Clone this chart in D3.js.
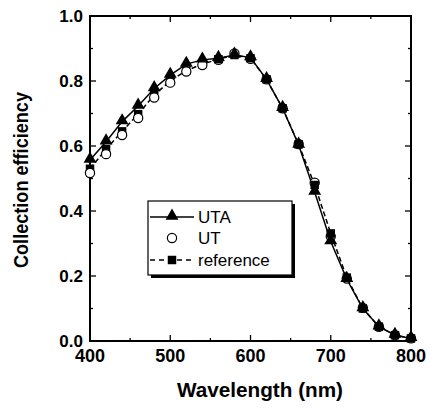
<!DOCTYPE html>
<html>
<head>
<meta charset="utf-8">
<script src="https://cdn.jsdelivr.net/npm/d3@7"></script>
<style>
  body { margin: 0; background: #fff; }
  text { font-family: "Liberation Sans", Arial, sans-serif; }
</style>
</head>
<body>
<div id="chart"></div>
<script>
const width = 430;
const height = 411;

// data
const wavelength = [400, 420, 440, 460, 480, 500, 520, 540, 560, 580, 600, 620, 640, 660, 680, 700, 720, 740, 760, 780, 800];
const uta = [0.557, 0.613, 0.675, 0.723, 0.777, 0.818, 0.852, 0.865, 0.870, 0.880, 0.872, 0.805, 0.716, 0.603, 0.458, 0.306, 0.190, 0.100, 0.044, 0.018, 0.008];
const ut = [0.517, 0.575, 0.634, 0.686, 0.749, 0.795, 0.829, 0.849, 0.865, 0.885, 0.868, 0.805, 0.716, 0.606, 0.487, 0.322, 0.192, 0.102, 0.044, 0.018, 0.008];
const reference = [0.530, 0.590, 0.645, 0.698, 0.757, 0.800, 0.832, 0.852, 0.867, 0.880, 0.870, 0.805, 0.716, 0.605, 0.480, 0.331, 0.195, 0.100, 0.044, 0.018, 0.008];
const xTicks = [400, 500, 600, 700, 800];
const yTicks = [0.0, 0.2, 0.4, 0.6, 0.8, 1.0];

const margin = {left: 90, right: 19, top: 16, bottom: 70};

const svg = d3.select("#chart").append("svg")
    .attr("width", width)
    .attr("height", height);

const x = d3.scaleLinear().domain([400, 800]).range([margin.left, width - margin.right]);
const y = d3.scaleLinear().domain([0, 1]).range([height - margin.bottom, margin.top]);

const x0 = x(400), x1 = x(800), y0 = y(0), y1 = y(1);

// ticks, inward, all four sides
const xMinor = d3.range(450, 800, 100);
const yMinor = d3.range(0.1, 1.0, 0.2);
const ticks = svg.append("g").attr("stroke", "#000").attr("stroke-width", 1.3);
xTicks.forEach(v => {
    ticks.append("line").attr("x1", x(v)).attr("x2", x(v)).attr("y1", y0).attr("y2", y0 - 6);
    ticks.append("line").attr("x1", x(v)).attr("x2", x(v)).attr("y1", y1).attr("y2", y1 + 6);
});
xMinor.forEach(v => {
    ticks.append("line").attr("x1", x(v)).attr("x2", x(v)).attr("y1", y0).attr("y2", y0 - 3);
    ticks.append("line").attr("x1", x(v)).attr("x2", x(v)).attr("y1", y1).attr("y2", y1 + 3);
});
yTicks.forEach(v => {
    ticks.append("line").attr("x1", x0).attr("x2", x0 + 6).attr("y1", y(v)).attr("y2", y(v));
    ticks.append("line").attr("x1", x1).attr("x2", x1 - 6).attr("y1", y(v)).attr("y2", y(v));
});
yMinor.forEach(v => {
    ticks.append("line").attr("x1", x0).attr("x2", x0 + 3).attr("y1", y(v)).attr("y2", y(v));
    ticks.append("line").attr("x1", x1).attr("x2", x1 - 3).attr("y1", y(v)).attr("y2", y(v));
});

svg.append("rect")
    .attr("x", x0).attr("y", y1)
    .attr("width", x1 - x0).attr("height", y0 - y1)
    .attr("fill", "none").attr("stroke", "#000").attr("stroke-width", 2);

// tick labels
svg.append("g").selectAll("text").data(xTicks).enter().append("text")
    .attr("x", d => x(d)).attr("y", y0 + 21)
    .attr("text-anchor", "middle")
    .attr("font-size", 18).attr("font-weight", "bold")
    .text(d => d);
svg.append("g").selectAll("text").data(yTicks).enter().append("text")
    .attr("x", x0 - 7).attr("y", d => y(d) + 6)
    .attr("text-anchor", "end")
    .attr("font-size", 17).attr("font-weight", "bold")
    .text(d => d.toFixed(1));

// axis titles
svg.append("text")
    .attr("x", 260).attr("y", 397)
    .attr("text-anchor", "middle")
    .attr("font-size", 20).attr("font-weight", "bold")
    .attr("textLength", 166).attr("lengthAdjust", "spacingAndGlyphs")
    .text("Wavelength (nm)");
svg.append("text")
    .attr("transform", "translate(28,180) rotate(-90)")
    .attr("text-anchor", "middle")
    .attr("font-size", 20).attr("font-weight", "bold")
    .attr("textLength", 176).attr("lengthAdjust", "spacingAndGlyphs")
    .text("Collection efficiency");

const line = d3.line().x((d, i) => x(wavelength[i])).y(d => y(d));

const tri = d3.symbol().type(d3.symbolTriangle).size(72);
const sq = d3.symbol().type(d3.symbolSquare).size(72);

// reference: dashed line
svg.append("path").datum(reference).attr("d", line)
    .attr("fill", "none").attr("stroke", "#000").attr("stroke-width", 1.5)
    .attr("stroke-dasharray", "5,3");
// UTA: solid line
svg.append("path").datum(uta).attr("d", line)
    .attr("fill", "none").attr("stroke", "#000").attr("stroke-width", 1.5);

const refPts = reference.map((v, i) => ({w: wavelength[i], v: v}));
// squares hidden under circles on the short-wavelength side, on top beyond the peak
const refBack = refPts.filter(d => d.w < 600 && d.w !== 560);
const refFront = refPts.filter(d => d.w >= 600 || d.w === 560);

svg.append("g").selectAll("path").data(refBack).enter().append("path")
    .attr("d", sq)
    .attr("transform", d => "translate(" + x(d.w) + "," + y(d.v) + ")")
    .attr("fill", "#000");

// UT: open circles
svg.append("g").selectAll("circle").data(ut).enter().append("circle")
    .attr("cx", (d, i) => x(wavelength[i])).attr("cy", d => y(d))
    .attr("r", 4.6)
    .attr("fill", "#fff").attr("stroke", "#000").attr("stroke-width", 1.2);

svg.append("g").selectAll("path").data(refFront).enter().append("path")
    .attr("d", sq)
    .attr("transform", d => "translate(" + x(d.w) + "," + y(d.v) + ")")
    .attr("fill", "#000");

// UTA: filled triangles
svg.append("g").selectAll("path").data(uta).enter().append("path")
    .attr("d", tri)
    .attr("transform", (d, i) => "translate(" + x(wavelength[i]) + "," + (y(d) - 1) + ")")
    .attr("fill", "#000");

// legend
const lg = svg.append("g");
const lx = 148, ly = 201, lw = 144, lh = 74;
lg.append("rect").attr("x", lx + 3).attr("y", ly + 3).attr("width", lw).attr("height", lh).attr("fill", "#000");
lg.append("rect").attr("x", lx).attr("y", ly).attr("width", lw).attr("height", lh)
    .attr("fill", "#fff").attr("stroke", "#000").attr("stroke-width", 1.2);

const rows = [
    {label: "UTA", y: 217, kind: "tri"},
    {label: "UT", y: 238, kind: "circ"},
    {label: "reference", y: 260, kind: "sq"}
];
rows.forEach(r => {
    if (r.kind !== "circ") {
        lg.append("line").attr("x1", lx + 2).attr("x2", lx + 46).attr("y1", r.y).attr("y2", r.y)
            .attr("stroke", "#000").attr("stroke-width", 1.5)
            .attr("stroke-dasharray", r.kind === "sq" ? "5,4" : null);
    }
    if (r.kind === "tri") {
        lg.append("path").attr("d", tri).attr("transform", "translate(" + (lx + 24) + "," + (r.y - 1) + ")").attr("fill", "#000");
    } else if (r.kind === "sq") {
        lg.append("path").attr("d", sq).attr("transform", "translate(" + (lx + 24) + "," + r.y + ")").attr("fill", "#000");
    } else {
        lg.append("circle").attr("cx", lx + 24).attr("cy", r.y).attr("r", 4.6)
            .attr("fill", "#fff").attr("stroke", "#000").attr("stroke-width", 1.2);
    }
    lg.append("text").attr("x", lx + 50).attr("y", r.y + 6)
        .attr("font-size", 17)
        .text(r.label);
});
</script>
</body>
</html>
